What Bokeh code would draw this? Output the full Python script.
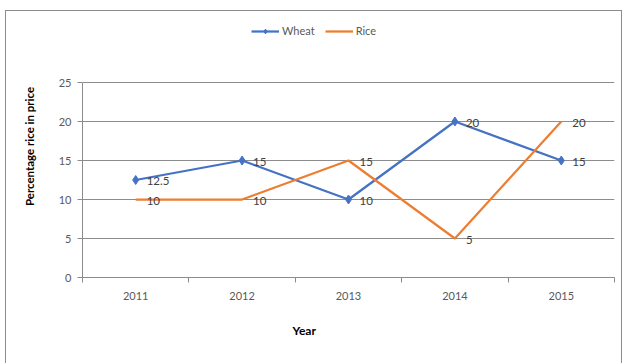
import math
from bokeh.plotting import figure
from bokeh.models import (Range1d, FixedTicker, Legend, LegendItem, LinearAxis,
                          ColumnDataSource, Title)
from bokeh.core.properties import value
from bokeh.embed import file_html
from bokeh.resources import INLINE

years = ["2011", "2012", "2013", "2014", "2015"]
wheat = [12.5, 15, 10, 20, 15]
rice = [10, 10, 15, 5, 20]
y_ticks = [0, 5, 10, 15, 20, 25]
x_title = "Year"
y_title = "Percentage rice in price"

FONT = "Lato"
GRAY = "#8c8c8c"
BLUE = "#4472C4"
ORANGE = "#ED7D31"

xs = list(range(1, len(years) + 1))

# vertical layout (screen px): canvas top 11, frame spans 15..277, value 25 at 82
PX_PER_UNIT = 195 / 25
y_top = 25 + (82 - 15) / PX_PER_UNIT

p = figure(width=615, height=352, output_backend="svg", toolbar_location=None,
           x_range=Range1d(0.5, len(years) + 0.5), y_range=Range1d(0, y_top),
           frame_width=532, frame_height=262,
           min_border_left=76, min_border_right=7, min_border_top=4,
           min_border_bottom=86)
p.outline_line_color = None
p.background_fill_color = "white"
p.border_fill_color = "white"
p.styles = {"border-left": "1px solid #8c8c8c", "border-top": "1px solid #8c8c8c",
            "border-right": "1px solid #8c8c8c",
            "margin-left": "5px", "margin-top": "10px"}

# grid
p.xgrid.grid_line_color = None
p.ygrid.ticker = FixedTicker(ticks=y_ticks)
p.ygrid.grid_line_color = GRAY
p.ygrid.grid_line_width = 1

# y axis
p.yaxis.ticker = FixedTicker(ticks=y_ticks)
p.yaxis.bounds = (y_ticks[0], y_ticks[-1])
p.yaxis.axis_line_color = GRAY
p.yaxis.major_tick_line_color = GRAY
p.yaxis.major_tick_out = 5
p.yaxis.major_tick_in = 0
p.yaxis.minor_tick_line_color = None
p.yaxis.major_label_text_font = FONT
p.yaxis.major_label_text_font_size = "11px"
p.yaxis.major_label_text_color = "#595959"
p.yaxis.major_label_standoff = 6

# x axis: labels at category centres, ticks at category boundaries
bounds = [x - 0.5 for x in xs] + [xs[-1] + 0.5]
p.xaxis.ticker = FixedTicker(ticks=xs, minor_ticks=bounds)
p.xaxis.major_label_overrides = {x: y for x, y in zip(xs, years)}
p.xaxis.axis_line_color = GRAY
p.xaxis.major_tick_line_color = None
p.xaxis.major_tick_out = 0
p.xaxis.major_tick_in = 0
p.xaxis.minor_tick_line_color = GRAY
p.xaxis.minor_tick_out = 5
p.xaxis.minor_tick_in = 0
p.xaxis.major_label_text_font = FONT
p.xaxis.major_label_text_font_size = "11px"
p.xaxis.major_label_text_color = "#595959"
p.xaxis.major_label_standoff = 9

# y-axis title on an extra label-only axis
ytitle_axis = LinearAxis(ticker=FixedTicker(ticks=[]), axis_label=y_title,
                         axis_line_color=None, major_tick_line_color=None,
                         minor_tick_line_color=None,
                         axis_label_text_font=FONT, axis_label_text_font_size="11.5px",
                         axis_label_text_font_style="bold",
                         axis_label_text_color="#000000", axis_label_standoff=20)
p.add_layout(ytitle_axis, "left")

# x-axis title placed as a title below the axis
p.add_layout(Title(text=x_title, align="left", offset=210, standoff=37,
                   text_font=FONT, text_font_size="12px", text_font_style="bold",
                   text_color="#000000"), "below")

# series
wl = p.line(xs, wheat, line_color=BLUE, line_width=2.25)
ws = p.scatter(xs, wheat, marker="diamond", size=9, fill_color=BLUE, line_color=BLUE)
rl = p.line(xs, rice, line_color=ORANGE, line_width=2.25)

# data labels
for vals in (wheat, rice):
    src = ColumnDataSource(dict(x=xs, y=vals, t=[f"{v:g}" for v in vals]))
    p.text(x="x", y="y", text="t", source=src, x_offset=11, y_offset=1,
           text_font=value(FONT), text_font_size="11.5px", text_color="#404040",
           text_align="left", text_baseline="middle")

legend = Legend(items=[LegendItem(label="Wheat", renderers=[wl, ws]),
                       LegendItem(label="Rice", renderers=[rl])],
                orientation="horizontal", location=(169, 240),
                label_text_font=FONT, label_text_font_size="11px",
                label_text_color="#595959", glyph_width=28, glyph_height=12,
                label_standoff=3, spacing=10, padding=0, margin=0,
                border_line_color=None, background_fill_alpha=0)
p.add_layout(legend, "center")

open("out.html", "w").write(file_html(p, INLINE))
